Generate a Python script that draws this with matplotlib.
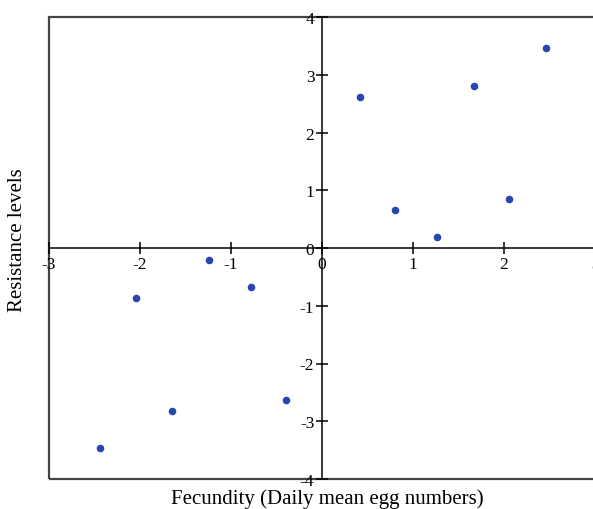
import matplotlib
matplotlib.use("Agg")
import matplotlib.pyplot as plt
from matplotlib.patches import Rectangle

fecundity = [2.46, 1.67, 0.42, 0.80, 1.26, 2.06, -1.24, -0.78, -2.04, -0.40, -1.65, -2.44]
resistance = [3.46, 2.80, 2.61, 0.66, 0.19, 0.85, -0.20, -0.67, -0.87, -2.63, -2.82, -3.47]
xticks = [-3, -2, -1, 0, 1, 2, 3]
yticks = [-4, -3, -2, -1, 0, 1, 2, 3, 4]

plt.rcParams['font.family'] = ['Liberation Serif', 'DejaVu Serif']

fig = plt.figure(figsize=(5.93, 5.10), dpi=100)
ax = fig.add_axes([49/593, 30/510, 546/593, 462/510])
ax.set_xlim(-3, 3)
ax.set_ylim(-4, 4)

ax.add_patch(Rectangle((-3, -4), 6, 8, fill=False, edgecolor='#444444', linewidth=1.6,
                       clip_on=False, zorder=1))

ax.spines['left'].set_position('zero')
ax.spines['bottom'].set_position('zero')
ax.spines['right'].set_visible(False)
ax.spines['top'].set_visible(False)
for s in ['left', 'bottom']:
    ax.spines[s].set_linewidth(1.1)
    ax.spines[s].set_color('black')

ax.set_xticks(xticks)
ax.set_yticks(yticks)
ax.set_xticklabels([str(t) for t in xticks])
ax.set_yticklabels([str(t) for t in yticks])
ax.tick_params(direction='inout', length=9, width=1.1, labelsize=12.5, colors='black', pad=1)
for lbl in ax.get_yticklabels():
    lbl.set_verticalalignment('center_baseline')

ax.scatter(fecundity, resistance, s=30, color='#2845b0', zorder=3, linewidths=0)

fig.text(0.552, 0.022, 'Fecundity (Daily mean egg numbers)', ha='center', va='center', fontsize=15)
fig.text(0.03, 0.53, 'Resistance levels', ha='center', va='center', rotation=90, fontsize=15)

fig.savefig('out.png', dpi=100)
